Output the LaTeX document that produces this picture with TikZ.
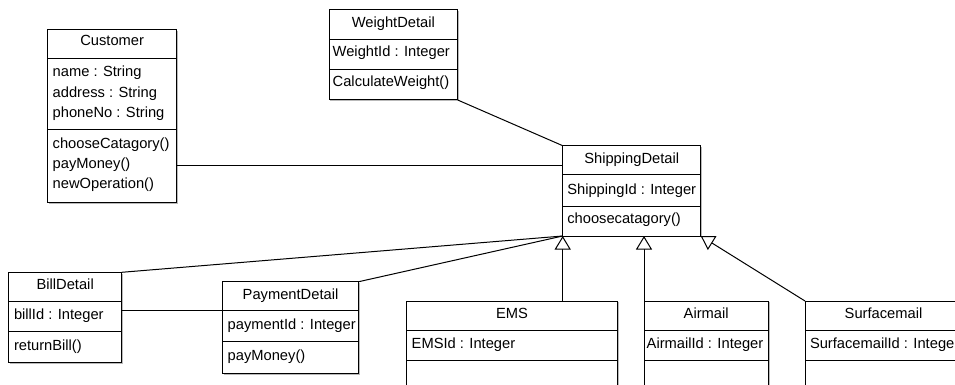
\documentclass[tikz,border=0pt]{standalone}
\usepackage{fontspec}
\setmainfont{Liberation Sans}
\usetikzlibrary{arrows.meta,shadows}

\tikzset{
  classbox/.style={draw=black, line width=1pt, fill=white, anchor=north west,
    inner sep=0pt, outer sep=0pt,
    drop shadow={shadow xshift=1.3pt, shadow yshift=-1.3pt, fill=gray!55, opacity=1}},
  umltext/.style={inner sep=0pt, outer sep=0pt, font=\fontsize{14.7}{17}\selectfont},
  ctitle/.style={umltext, anchor=base},
  cmember/.style={umltext, anchor=base west},
  divider/.style={draw=black, line width=1pt},
  assoc/.style={draw=black, line width=1pt},
  gener/.style={draw=black, line width=1pt,
    -{Triangle[open, fill=white, length=13.5pt, width=16pt]}},
}

% horizontal compartment line, #2 below the top edge of box #1
\newcommand{\compline}[2]{%
  \draw[divider] ([yshift=-#2pt]#1.north west) -- ([yshift=-#2pt]#1.north east);}

\begin{document}
\begin{tikzpicture}[x=1pt, y=-1pt]
\useasboundingbox (0,0) rectangle (955,385);
\clip (0,0) rectangle (955,385);

% ---------- Customer ----------
\node[classbox, minimum width=129pt, minimum height=173.4pt] (customer) at (47.7,29.3) {};
\compline{customer}{29}
\compline{customer}{100.7}
\node[ctitle] (customer-t) at ([yshift=-16.7pt]customer.north) {Customer};
\node[cmember] (customer-a1) at ([xshift=5pt, yshift=-47.5pt]customer.north west) {name : String};
\node[cmember] (customer-a2) at ([xshift=5pt, yshift=-67.8pt]customer.north west) {address : String};
\node[cmember] (customer-a3) at ([xshift=5pt, yshift=-88.1pt]customer.north west) {phoneNo : String};
\node[cmember] (customer-m1) at ([xshift=5pt, yshift=-119pt]customer.north west) {chooseCatagory()};
\node[cmember] (customer-m2) at ([xshift=5pt, yshift=-139.3pt]customer.north west) {payMoney()};
\node[cmember] (customer-m3) at ([xshift=5pt, yshift=-159.6pt]customer.north west) {newOperation()};

% ---------- WeightDetail ----------
\node[classbox, minimum width=128.7pt, minimum height=90pt] (weight) at (329,10) {};
\compline{weight}{30}
\compline{weight}{59.3}
\node[ctitle] (weight-t) at ([yshift=-17.5pt]weight.north) {WeightDetail};
\node[cmember] (weight-a1) at ([xshift=3.7pt, yshift=-47pt]weight.north west) {WeightId : Integer};
\node[cmember] (weight-m1) at ([xshift=3.7pt, yshift=-76.3pt]weight.north west) {CalculateWeight()};

% ---------- ShippingDetail ----------
\node[classbox, minimum width=138pt, minimum height=90.3pt] (shipping) at (562.7,145.7) {};
\compline{shipping}{28.6}
\compline{shipping}{60.3}
\node[ctitle] (shipping-t) at ([yshift=-17.8pt]shipping.north) {ShippingDetail};
\node[cmember] (shipping-a1) at ([xshift=4.6pt, yshift=-48.3pt]shipping.north west) {ShippingId : Integer};
\node[cmember] (shipping-m1) at ([xshift=4.6pt, yshift=-77.3pt]shipping.north west) {choosecatagory()};

% ---------- BillDetail ----------
\node[classbox, minimum width=113pt, minimum height=90.4pt] (bill) at (8.7,272.3) {};
\compline{bill}{28.7}
\compline{bill}{59.4}
\node[ctitle] (bill-t) at ([yshift=-17.2pt]bill.north) {BillDetail};
\node[cmember] (bill-a1) at ([xshift=5.3pt, yshift=-46.9pt]bill.north west) {billId : Integer};
\node[cmember] (bill-m1) at ([xshift=5.3pt, yshift=-77.7pt]bill.north west) {returnBill()};

% ---------- PaymentDetail ----------
\node[classbox, minimum width=136.4pt, minimum height=91.6pt] (payment) at (222.3,281.7) {};
\compline{payment}{29}
\compline{payment}{60}
\node[ctitle] (payment-t) at ([yshift=-17.6pt]payment.north) {PaymentDetail};
\node[cmember] (payment-a1) at ([xshift=5.4pt, yshift=-47.6pt]payment.north west) {paymentId : Integer};
\node[cmember] (payment-m1) at ([xshift=5.4pt, yshift=-78.3pt]payment.north west) {payMoney()};

% ---------- EMS ----------
\node[classbox, minimum width=210.6pt, minimum height=120pt] (ems) at (406.7,301) {};
\compline{ems}{29}
\compline{ems}{59}
\node[ctitle] (ems-t) at ([yshift=-17.3pt]ems.north) {EMS};
\node[cmember] (ems-a1) at ([xshift=5pt, yshift=-47.3pt]ems.north west) {EMSId : Integer};

% ---------- Airmail ----------
\node[classbox, minimum width=124.3pt, minimum height=120pt] (airmail) at (644,301) {};
\compline{airmail}{29}
\compline{airmail}{59}
\node[ctitle] (airmail-t) at ([yshift=-17.3pt]airmail.north) {Airmail};
\node[cmember] (airmail-a1) at ([xshift=2.7pt, yshift=-47.3pt]airmail.north west) {AirmailId : Integer};

% ---------- Surfacemail ----------
\node[classbox, minimum width=157pt, minimum height=120pt] (surface) at (805,301) {};
\compline{surface}{29}
\compline{surface}{59}
\node[ctitle] (surface-t) at ([yshift=-17.3pt]surface.north) {Surfacemail};
\node[cmember] (surface-a1) at ([xshift=5pt, yshift=-47.3pt]surface.north west) {SurfacemailId : Integer};

% ---------- associations ----------
\coordinate (custlink) at (0,165);
\coordinate (paylink) at (0,310.7);
\draw[assoc] (customer.east |- custlink) -- (shipping.west |- custlink);
\draw[assoc] (weight.south east) -- (shipping.north west);
\draw[assoc] (bill.north east) -- (shipping.south west);
\draw[assoc] (payment.north east) -- (shipping.south west);
\draw[assoc] (bill.east |- paylink) -- (payment.west |- paylink);

% ---------- generalisations ----------
\draw[gener] (shipping.south west |- ems.north) -- (shipping.south west);
\draw[gener] (airmail.north west) -- (airmail.north west |- shipping.south);
\draw[gener] (surface.north west) -- (shipping.south east);
\end{tikzpicture}
\end{document}
